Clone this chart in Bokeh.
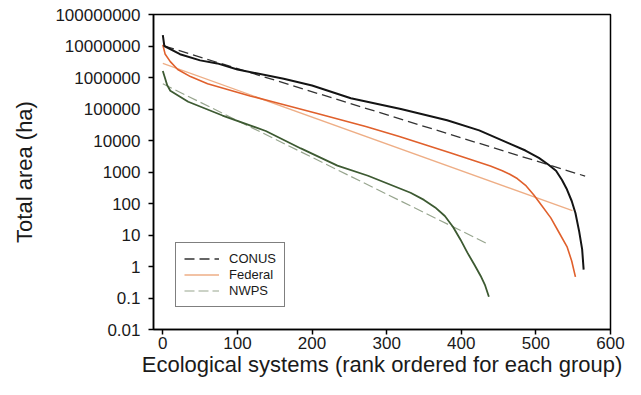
from bokeh.plotting import figure
from bokeh.models import Legend, LegendItem, FixedTicker, CustomJSTickFormatter, Range1d
from bokeh.embed import file_html
from bokeh.resources import INLINE

# ---- data ----
conus_rank = [0, 2, 23, 50, 73, 100, 162, 200, 252, 319, 381, 424, 464, 486, 504, 517, 527,
              535, 541, 548, 553, 558, 562, 564]
conus_area = [2.2e7, 1.0e7, 5.5e6, 3.5e6, 2.8e6, 1.8e6, 9.1e5, 5.6e5, 2.2e5, 1.0e5, 4.4e4,
              2.1e4, 8.1e3, 4.8e3, 2.8e3, 1.7e3, 1.1e3, 560, 300, 120, 50, 13, 3.5, 0.8]

federal_rank = [0, 3, 10, 20, 37, 60, 117, 151, 207, 272, 317, 386, 439, 455, 465, 475, 487,
                497, 508, 520, 531, 542, 548, 553]
federal_area = [1.1e7, 5.6e6, 3.2e6, 1.8e6, 1.07e6, 6.3e5, 2.6e5, 1.6e5, 7.2e4, 2.8e4, 1.35e4,
                4.0e3, 1.55e3, 1.1e3, 850, 620, 360, 190, 85, 35, 12, 4.1, 1.5, 0.47]

nwps_rank = [0, 6, 10, 34, 80, 138, 185, 234, 275, 332, 350, 365, 378, 389, 399, 408, 418,
             426, 432, 437]
nwps_area = [1.6e6, 5.6e5, 3.8e5, 1.7e5, 6.2e4, 2.0e4, 5.6e3, 1.6e3, 760, 220, 130, 75, 40,
             18, 7.1, 2.8, 1.1, 0.5, 0.25, 0.11]

# fitted trend lines (start / end)
conus_fit_rank = [2, 566]
conus_fit_area = [1.0e7, 740]
federal_fit_rank = [0, 549]
federal_fit_area = [2.8e6, 59]
nwps_fit_rank = [0, 437]
nwps_fit_area = [6.3e5, 5.0]

y_ticks = [0.01, 0.1, 1, 10, 100, 1000, 10000, 100000, 1000000, 10000000, 100000000]
x_ticks = [0, 100, 200, 300, 400, 500, 600]

FONT = "Liberation Sans"

p = figure(width=625, height=379, output_backend="svg", toolbar_location=None,
           y_axis_type="log", x_range=Range1d(-12.5, 600), y_range=Range1d(0.01, 1e8),
           min_border_left=153, min_border_right=15, min_border_top=14, min_border_bottom=49)

p.background_fill_color = "white"
p.border_fill_color = "white"
p.outline_line_color = "black"
p.outline_line_width = 1.5
p.grid.visible = False

# axes
for ax in (p.xaxis[0], p.yaxis[0]):
    ax.axis_line_color = "black"
    ax.axis_line_width = 1.5
    ax.major_tick_line_color = "black"
    ax.major_tick_line_width = 1.5
    ax.major_tick_out = 5
    ax.major_tick_in = 0
    ax.minor_tick_line_color = None
    ax.major_label_text_font = FONT
    ax.major_label_text_font_size = "17px"
    ax.major_label_text_color = "#1a1a1a"
    ax.axis_label_text_font = FONT
    ax.axis_label_text_font_size = "22px"
    ax.axis_label_text_font_style = "normal"
    ax.axis_label_text_color = "#1a1a1a"

p.xaxis.ticker = FixedTicker(ticks=x_ticks)
p.yaxis.ticker = FixedTicker(ticks=y_ticks)
p.yaxis.formatter = CustomJSTickFormatter(
    code="return tick < 1 ? String(Number(tick.toPrecision(1))) : tick.toFixed(0);")
p.xaxis.major_label_standoff = 2
p.yaxis.major_label_standoff = 8
p.xaxis.axis_label = "Ecological systems (rank ordered for each group)"
p.yaxis.axis_label = "Total area (ha)"
p.xaxis.axis_label_standoff = 0
p.yaxis.axis_label_standoff = 15

# fit lines
r_cfit = p.line(conus_fit_rank, conus_fit_area, line_color="#333333", line_width=1.3, line_dash="10 5")
r_ffit = p.line(federal_fit_rank, federal_fit_area, line_color="#eeae86", line_width=1.3)
r_nfit = p.line(nwps_fit_rank, nwps_fit_area, line_color="#97a58e", line_width=1.2, line_dash="10 4")

# data curves
p.line(federal_rank, federal_area, line_color="#e0602c", line_width=1.6)
p.line(nwps_rank, nwps_area, line_color="#3d5a32", line_width=1.8)
p.line(conus_rank, conus_area, line_color="#141414", line_width=2)

legend = Legend(items=[
    LegendItem(label="CONUS", renderers=[r_cfit]),
    LegendItem(label="Federal", renderers=[r_ffit]),
    LegendItem(label="NWPS", renderers=[r_nfit]),
], location=(22, 22))
legend.border_line_color = "black"
legend.border_line_width = 1.5
legend.background_fill_alpha = 1
legend.label_text_font = FONT
legend.label_text_font_size = "13px"
legend.label_text_color = "#1a1a1a"
legend.glyph_width = 35
legend.glyph_height = 15
legend.label_height = 15
legend.label_standoff = 10
legend.spacing = 1
legend.padding = 8
legend.margin = 0
p.add_layout(legend, "center")

open("out.html", "w").write(file_html(p, INLINE))
